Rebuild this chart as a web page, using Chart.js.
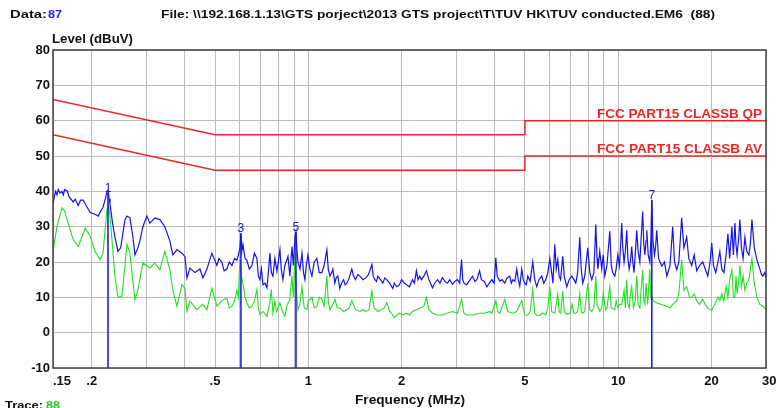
<!DOCTYPE html>
<html>
<head>
<meta charset="utf-8">
<script src="https://cdn.jsdelivr.net/npm/chart.js@4.4.1/dist/chart.umd.min.js"></script>
<style>
html,body{margin:0;padding:0;background:#fff;}
#wrap{position:relative;width:776px;height:408px;}
</style>
</head>
<body>
<div id="wrap"><canvas id="c" width="776" height="408"></canvas></div>
<script>
// ---- data (frequency in MHz, level in dBuV) ----
const peakFreq = [0.150,0.1515,0.153,0.1545,0.156,0.158,0.1604,0.162,0.1635,0.1665,0.169,0.1743,0.177,0.1809,0.184,0.1877,0.1905,0.1977,0.2049,0.21,0.2127,0.2175,0.2215,0.2241,0.2257,0.2275,0.2291,0.2335,0.2377,0.2431,0.248,0.2561,0.2598,0.2657,0.2717,0.2757,0.2819,0.2861,0.2925,0.3013,0.3081,0.3197,0.3318,0.3443,0.3574,0.3655,0.3768,0.391,0.3999,0.4059,0.415,0.4306,0.4469,0.457,0.4707,0.4885,
0.507,0.515,0.526,0.535,0.546,0.556,0.567,0.578,0.588,0.595,0.6017,0.6062,0.610,0.6152,0.625,0.6338,0.645,0.6578,0.670,0.6827,0.690,0.6981,0.706,0.7138,0.725,0.7354,0.745,0.752,0.760,0.7689,0.78,0.7921,0.80,0.81,0.818,0.8281,0.84,0.8597,0.872,0.8857,0.895,0.9056,0.9124,0.918,0.9259,0.94,0.9538,0.965,0.9753,0.985,0.9974,
1.012,1.0275,1.045,1.066,1.085,1.106,1.125,1.148,1.16,1.174,1.19,1.2,1.218,1.23,1.245,1.264,1.28,1.30,1.315,1.332,1.355,1.382,1.40,1.42,1.445,1.467,1.50,1.534,1.565,1.604,1.62,1.64,1.66,1.677,1.71,1.74,1.765,1.792,1.83,1.874,1.896,1.93,1.968,
2.0,2.043,2.08,2.12,2.17,2.2,2.233,2.26,2.29,2.318,2.36,2.406,2.45,2.48,2.516,2.56,2.611,2.66,2.71,2.76,2.813,2.86,2.92,2.97,3.031,3.08,3.123,3.15,3.18,3.242,3.30,3.389,3.45,3.50,3.57,3.62,3.70,3.768,3.84,3.91,3.98,4.029,4.07,4.15,4.22,4.306,4.38,4.469,4.52,4.57,4.64,4.707,4.76,4.813,4.885,4.94,4.996,
5.05,5.109,5.2,5.301,5.38,5.461,5.55,5.669,5.75,5.84,5.93,6.017,6.1,6.16,6.245,6.31,6.386,6.45,6.52,6.626,6.7,6.827,6.95,7.085,7.2,7.298,7.4,7.518,7.6,7.688,7.8,7.978,8.1,8.219,8.35,8.467,8.55,8.6,8.722,8.85,8.95,9.056,9.2,9.398,9.5,9.6,9.753,9.85,9.974,
10.1,10.27,10.35,10.45,10.55,10.66,10.75,10.85,10.95,11.06,11.15,11.25,11.35,11.48,11.6,11.75,11.85,12.0,12.1,12.2,12.3,12.37,12.5,12.65,12.75,12.84,12.95,13.1,13.2,13.32,13.5,13.83,14.1,14.36,14.7,15.0,15.2,15.45,15.7,16.03,16.3,16.64,16.9,17.27,17.6,17.93,18.3,18.75,19.1,19.46,19.8,
20.05,20.3,20.65,21.0,21.29,21.6,21.94,22.3,22.6,22.9,23.28,23.55,23.81,24.0,24.2,24.45,24.71,25.0,25.3,25.65,26.0,26.42,26.7,27.02,27.5,28.04,28.67,29.0,29.31,29.7,30.0];
const peakLevel = [36.5,38.5,40,39,40.5,39.5,40,39,40.5,40.2,38.5,37,37.8,36,37.5,37.5,36.5,34,33.5,33,34,35.5,38,40,40.5,38,36.5,31,27,23,24,32,33,32.5,27,22,24,26,30,33,31,32.5,32,30,26,22,23.5,22.5,21.5,15.5,18.3,17,18,15.5,18,22.5,
19,21,20,17.5,18,20,19,21,20.5,22,24,28,23,25,21,20.5,18,19,22.5,21,16,15,18,13.6,14,12.7,18,22.5,17,16,21,17.4,20,23.5,18,15,19,21.6,16,24.4,19,27,28.5,24,20,18,22.5,17,15,19,22,
18,16,20,21,17,17,19,23.5,18,16,17,18,14,15.5,16,12.5,14,15,13.5,14,15.5,18,16,15,16.5,16,15,15.5,16.5,19.3,16,15,14.5,16,15,14,15.5,15,14,12.5,14,13,13.5,
15,14,13.5,13,15,14,17.5,15,16,15,16,17.5,15,14,12.7,14,15,14,15.6,14.5,14,15,13.7,14.5,15,14,20.7,15,14,13.5,14.5,16,14.5,15,17.5,15,14.5,13,14,15,14,21.2,16,14.6,15,14,15.5,16,14,15,14.5,18,15,13.2,18,15,14,
13.5,16,14.5,20,15,13,15,16,14,15,17,21,17,14,25,18,20.7,16,15,21.6,16,13,15,16,15,14,17,27,18,14,16,24,17,15,17,30.6,21,18,23,18,22,16,19,28.7,19,17,16,18,22,
19,31,24,20,23,29,21,18,20,24.4,20,17,22,29,23,20,26,34.3,25,22,26,29,22,20,26,37.5,26,22,24,29,21,18.8,20,16,19,30,20,17.8,20,32.5,24,27,21,19,22,17.5,19,20,18,16,20,
25.4,19,17,20,23,18,17,22,28,21,30,22,31,25,22,26,32,24,21,27,23,22,25,32,24,20.6,18,16.5,16,17,15.5];
const avgFreq = [0.150,0.1545,0.1604,0.1635,0.1665,0.1743,0.1809,0.1877,0.1905,0.1977,0.2049,0.2127,0.2175,0.2241,0.2257,0.2291,0.2377,0.2431,0.2504,0.2598,0.2657,0.2757,0.2819,0.2925,0.3081,0.3197,0.3318,0.3443,0.3574,0.3655,0.3768,0.391,0.3999,0.4059,0.415,0.4371,0.457,0.4707,0.4885,
0.507,0.525,0.5461,0.556,0.5669,0.578,0.5883,0.595,0.6017,0.608,0.6152,0.625,0.6338,0.645,0.6578,0.67,0.6827,0.69,0.6981,0.715,0.7354,0.75,0.76,0.7689,0.78,0.79,0.81,0.825,0.84,0.855,0.87,0.8857,0.895,0.9056,0.915,0.9259,0.94,0.9538,0.97,0.99,
1.0,1.0275,1.045,1.066,1.085,1.106,1.125,1.148,1.16,1.174,1.2,1.22,1.24,1.264,1.30,1.332,1.355,1.382,1.42,1.467,1.50,1.534,1.57,1.604,1.63,1.677,1.72,1.76,1.792,1.83,1.874,1.896,1.93,1.968,
2.02,2.07,2.12,2.17,2.233,2.3,2.36,2.406,2.45,2.516,2.6,2.71,2.8,2.92,3.03,3.123,3.18,3.242,3.4,3.57,3.7,3.85,3.91,4.029,4.08,4.15,4.306,4.4,4.57,4.7,4.885,4.996,
5.109,5.2,5.301,5.38,5.461,5.6,5.7,5.84,5.93,6.017,6.1,6.245,6.386,6.45,6.52,6.626,6.7,6.827,7.0,7.1,7.2,7.298,7.4,7.518,7.6,7.688,7.8,7.978,8.1,8.219,8.35,8.467,8.55,8.722,8.85,8.95,9.1,9.2,9.398,9.5,9.753,9.85,9.974,
10.1,10.27,10.45,10.55,10.66,10.75,10.85,10.95,11.06,11.2,11.35,11.48,11.6,11.75,11.85,12.0,12.1,12.2,12.3,12.45,12.65,12.75,12.84,13.0,13.32,13.8,14.36,14.7,15.0,15.45,15.7,16.03,16.3,16.64,17.0,17.27,17.6,17.93,18.3,18.75,19.1,19.46,19.8,
20.05,20.5,21.0,21.29,21.6,21.94,22.3,22.6,22.9,23.28,23.55,23.81,24.0,24.2,24.45,24.71,25.0,25.3,25.65,26.0,26.42,26.7,27.02,27.5,28.04,28.67,29.31,30.0];
const avgLevel = [23,30,35.3,34.5,32,26.3,24.4,28,29.6,27.3,23,20.7,22.5,35,37,33,16,10,10.3,25,22.5,9.3,12.2,19.7,18.3,19.7,17.8,23,17.8,12,7.5,13.6,12.6,6,8.9,6.5,8,6.5,12.6,
7.5,9,9.8,7,7.5,9,12,10,20.7,16,14,10,8.4,7,7.5,9,12.2,7,5.1,6,4.6,8,12.2,5.5,9,6,8.4,6,4.6,8,9,16,10,22.5,12,6.5,8,13,7,6.5,
9,10,7,7.5,10,9.5,7.5,16,9,6.5,8,9.4,7,7,6,6.5,7,9,6.5,6,6.5,6,6.5,11.8,7,6,6.5,7,8.5,6,5,4.2,5,5.5,
5,5.5,5,6,6.5,7,7.5,10,6.5,5.5,5,5,5.5,6,5.5,9.4,5.5,5,5,5.5,5.5,6,5.5,9,6,5.5,9.4,6,5.5,6,9,5,
5,6,12.2,5.5,4.8,5,5.5,5,7,13,6,5.5,11,6,5.5,11.7,6,5.2,5.5,8,5.5,5.5,6,11,6,5.5,6,14,6.5,6,7,16,8,6,7,11,6.5,7,13,7,6.5,9,7,
8,8,12,7,15,8,7,11,13,7,9,16,8,7,12,17.8,9,8,14,8,18,10,10,9,8.4,8,7.5,7,8,9,11,20.7,12,13,10,10,11,9,8,9.5,8,7,6.5,
6.5,8,10,9,11,9,13,10,15,17.8,10,10,16,11,14,19,13,16,12,14,15,18,21,14,10,8,7.5,6.5];
const limitFreq = [0.15,0.5,5,5,30];
const limitQPLevel = [66,56,56,60,60];
const limitAVLevel = [56,46,46,50,50];
const markerFreq = [0.2257,0.6062,0.9124,12.84];
const markerLevel = [39.5,28.2,28.5,37.6];
const markerLabels = ['1','3','5','7'];
const xTickValues = [0.15,0.2,0.3,0.4,0.5,0.6,0.7,0.8,0.9,1,2,3,4,5,6,7,8,9,10,20,30];
const xTickText = ['.15','.2','','','.5','','','','','1','2','','','5','','','','','10','20','30'];
const yMin = -10, yMax = 80, yStep = 10;

const FONT = '"Liberation Sans", Arial, sans-serif';
const BLUE = '#1414e6', GREEN = '#22e022', RED = '#e82828';

const pts = (xs, ys) => xs.map((x, i) => ({x, y: ys[i]}));

const datasets = [];
markerFreq.forEach((f, i) => {
  datasets.push({data: [{x: f, y: markerLevel[i]}, {x: f, y: yMin}], borderColor: BLUE, borderWidth: 1.5});
});
datasets.push({data: pts(limitFreq, limitQPLevel), borderColor: RED, borderWidth: 1.5});
datasets.push({data: pts(limitFreq, limitAVLevel), borderColor: RED, borderWidth: 1.5});
datasets.push({data: pts(peakFreq, peakLevel), borderColor: BLUE, borderWidth: 1.2});
datasets.push({data: pts(avgFreq, avgLevel), borderColor: GREEN, borderWidth: 1.1});
datasets.forEach(d => { d.showLine = true; d.pointRadius = 0; d.tension = 0; d.fill = false; });

function fitText(ctx, text, x, y, font, color, align, width) {
  ctx.save();
  ctx.font = font; ctx.fillStyle = color; ctx.textBaseline = 'alphabetic';
  const w = ctx.measureText(text).width;
  const s = width ? width / w : 1;
  let x0 = x;
  const ww = w * s;
  if (align === 'right') x0 = x - ww; else if (align === 'center') x0 = x - ww / 2;
  ctx.translate(x0, y); ctx.scale(s, 1);
  ctx.textAlign = 'left';
  ctx.fillText(text, 0, 0);
  ctx.restore();
}

const decor = {
  id: 'decor',
  afterDraw(chart) {
    const ctx = chart.ctx, a = chart.chartArea;
    const xs = chart.scales.x, ys = chart.scales.y;
    ctx.save();
    ctx.strokeStyle = '#404040'; ctx.lineWidth = 1.5;
    ctx.strokeRect(a.left, a.top, a.right - a.left, a.bottom - a.top);
    ctx.restore();
    // x tick labels, positioned through the x scale
    xTickValues.forEach((v, i) => {
      const t = xTickText[i];
      if (!t) return;
      const px = xs.getPixelForValue(v);
      const align = i === 0 || i === xTickValues.length - 1 ? 'left' : 'center';
      const off = i === xTickValues.length - 1 ? -4 : 0;
      fitText(ctx, t, px + off, a.bottom + 17, 'bold 13px ' + FONT, '#111', align);
    });
    fitText(ctx, 'Data:', 10, 18, 'bold 11px ' + FONT, '#111', 'left', 37);
    fitText(ctx, '87', 48, 18, 'bold 11px ' + FONT, '#2020f0', 'left', 14);
    fitText(ctx, 'File: \\\\192.168.1.13\\GTS porject\\2013 GTS project\\T\\TUV HK\\TUV conducted.EM6  (88)', 161, 18, 'bold 11px ' + FONT, '#111', 'left', 554);
    fitText(ctx, 'Level (dBuV)', 52, 43, 'bold 13px ' + FONT, '#111', 'left', 81);
    fitText(ctx, 'Frequency (MHz)', 410, 404, 'bold 13px ' + FONT, '#111', 'center', 110);
    fitText(ctx, 'Trace:', 5, 409, 'bold 11px ' + FONT, '#111', 'left', 38);
    fitText(ctx, '88', 46, 409, 'bold 11px ' + FONT, '#22cc22', 'left', 14);
    fitText(ctx, 'FCC PART15 CLASSB QP', a.right - 4, ys.getPixelForValue(limitQPLevel[4]) - 3, 'bold 13px ' + FONT, RED, 'right', 165);
    fitText(ctx, 'FCC PART15 CLASSB AV', a.right - 4, ys.getPixelForValue(limitAVLevel[4]) - 3, 'bold 13px ' + FONT, RED, 'right', 165);
    markerFreq.forEach((f, i) => {
      fitText(ctx, markerLabels[i], xs.getPixelForValue(f), ys.getPixelForValue(markerLevel[i]) - 1, '12px ' + FONT, BLUE, 'center');
    });
  }
};

new Chart(document.getElementById('c'), {
  type: 'scatter',
  data: {datasets},
  options: {
    responsive: false,
    animation: false,
    events: [],
    layout: {padding: {top: 50, right: 10, left: 0, bottom: 0}},
    plugins: {legend: {display: false}, tooltip: {enabled: false}, title: {display: false}},
    scales: {
      x: {
        type: 'logarithmic',
        min: 0.15, max: 30,
        afterBuildTicks(scale) { scale.ticks = xTickValues.map(v => ({value: v})); },
        afterFit(scale) { scale.height = 40; scale.paddingLeft = 0; scale.paddingRight = 0; },
        grid: {color: '#bdbdbd', lineWidth: 1, drawTicks: false},
        border: {display: false},
        ticks: {display: false, autoSkip: false, maxRotation: 0, minRotation: 0}
      },
      y: {
        min: yMin, max: yMax,
        afterFit(scale) { scale.width = 53; },
        grid: {color: '#bdbdbd', lineWidth: 1, drawTicks: false},
        border: {display: false},
        ticks: {stepSize: yStep, padding: 3, color: '#111', font: {family: FONT, size: 13, weight: 'bold'}}
      }
    }
  },
  plugins: [decor]
});
</script>
</body>
</html>
